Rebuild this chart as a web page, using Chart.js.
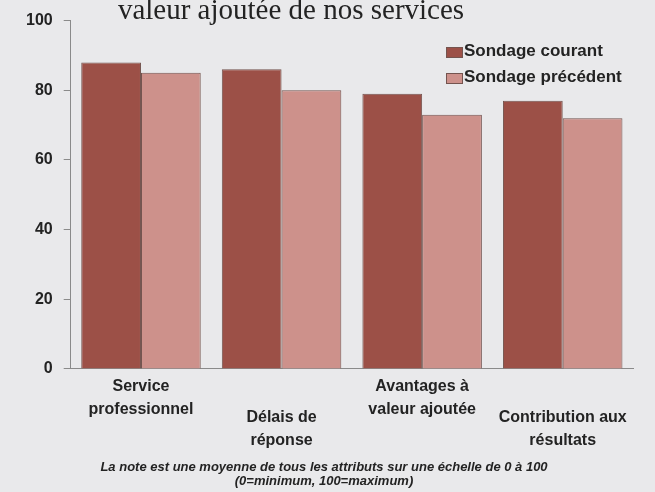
<!DOCTYPE html>
<html>
<head>
<meta charset="utf-8">
<script src="https://cdn.jsdelivr.net/npm/chart.js@4.4.1/dist/chart.umd.min.js"></script>
<style>
  html, body { margin: 0; padding: 0; background: #e9e9eb; }
  #wrap { width: 655px; height: 492px; }
</style>
</head>
<body>
<div id="wrap"><canvas id="chart" width="655" height="492"></canvas></div>
<script>
// data
const categories = [
  ['Service', 'professionnel'],
  ['Délais de', 'réponse'],
  ['Avantages à', 'valeur ajoutée'],
  ['Contribution aux', 'résultats']
];
const seriesNames = ['Sondage courant', 'Sondage précédent'];
const currentSurvey = [88, 86, 79, 77];
const previousSurvey = [85, 80, 73, 72];
const yTicks = [0, 20, 40, 60, 80, 100];
const titleText = 'valeur ajoutée de nos services';
const footnote = [
  'La note est une moyenne de tous les attributs sur une échelle de 0 à 100',
  '(0=minimum, 100=maximum)'
];

const colors = ['#9c5047', '#cd918b'];
const edge = '#74544f';
const ink = '#232323';
const axisGrey = '#8a8a8a';
const sans = "'Liberation Sans', Arial, sans-serif";

// title and legend sit off-centre / inside the plot, so draw them by hand
const decor = {
  id: 'decor',
  afterDraw(chart) {
    const ctx = chart.ctx;
    ctx.save();
    ctx.fillStyle = ink;
    ctx.font = "29px 'Liberation Serif', 'Times New Roman', serif";
    ctx.textAlign = 'center';
    ctx.textBaseline = 'alphabetic';
    ctx.fillText(titleText, 291, 19);

    ctx.font = 'bold 17px ' + sans;
    ctx.textAlign = 'left';
    ctx.textBaseline = 'middle';
    chart.data.datasets.forEach((ds, i) => {
      const y = 51 + i * 26;
      ctx.fillStyle = ds.backgroundColor;
      ctx.fillRect(446, y - 4, 17, 11);
      ctx.strokeStyle = edge;
      ctx.lineWidth = 1;
      ctx.strokeRect(446.5, y - 3.5, 16, 10);
      ctx.fillStyle = ink;
      ctx.fillText(ds.label, 464, y);
    });
    ctx.restore();
  }
};

const tickFont = { family: sans, size: 16, weight: 'bold', lineHeight: 1.4375 };

new Chart(document.getElementById('chart'), {
  type: 'bar',
  data: {
    labels: categories,
    datasets: [
      { label: seriesNames[0], data: currentSurvey, backgroundColor: colors[0],
        borderColor: edge, borderWidth: 1 },
      { label: seriesNames[1], data: previousSurvey, backgroundColor: colors[1],
        borderColor: edge, borderWidth: 1 }
    ]
  },
  options: {
    responsive: false,
    animation: false,
    datasets: { bar: { categoryPercentage: 0.85, barPercentage: 1.0 } },
    layout: { padding: { top: 20, left: 15, right: 22, bottom: 0 } },
    plugins: {
      legend: { display: false },
      tooltip: { enabled: false },
      title: { display: false },
      subtitle: {
        display: true,
        position: 'bottom',
        text: footnote,
        color: ink,
        font: { family: sans, size: 13, weight: 'bold', style: 'italic', lineHeight: 1.08 },
        padding: { top: 6, bottom: 4 }
      }
    },
    scales: {
      x: {
        grid: { drawOnChartArea: false, drawTicks: false },
        border: { color: axisGrey, width: 1 },
        ticks: {
          color: ink, font: tickFont, padding: 6,
          maxRotation: 0, minRotation: 0, autoSkip: false,
          callback: (v, i) => (i % 2 === 0 ? categories[i] : '')
        }
      },
      // second, lower row of the staggered labels (mirrored so it is not clipped)
      x2: {
        type: 'category',
        position: 'bottom',
        labels: categories,
        offset: true,
        grid: { display: false },
        border: { display: false },
        ticks: {
          color: ink, font: tickFont, padding: 9.5, mirror: true, crossAlign: 'center',
          maxRotation: 0, minRotation: 0, autoSkip: false,
          callback: (v, i) => (i % 2 === 1 ? categories[i] : '')
        }
      },
      y: {
        min: 0,
        max: 100,
        afterBuildTicks: s => { s.ticks = yTicks.map(v => ({ value: v })); },
        grid: { drawOnChartArea: false, drawTicks: true, tickLength: 7, color: axisGrey },
        border: { color: axisGrey },
        ticks: { color: ink, font: { family: sans, size: 16, weight: 'bold' }, padding: 11 }
      }
    }
  },
  plugins: [decor]
});
</script>
</body>
</html>
